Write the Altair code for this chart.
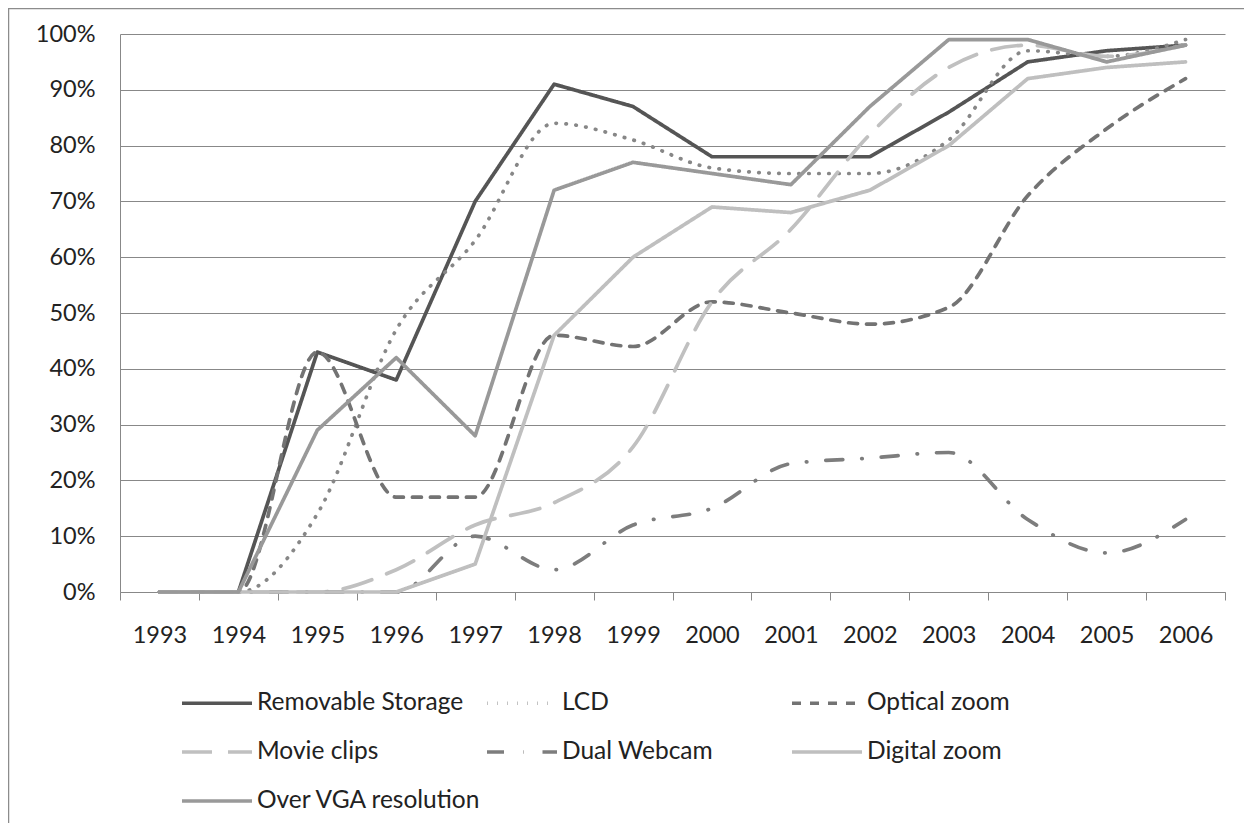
import altair as alt
import pandas as pd

years = [str(y) for y in range(1993, 2007)]
series = ["Removable Storage", "LCD", "Optical zoom", "Movie clips",
          "Dual Webcam", "Digital zoom", "Over VGA resolution"]

removable = [0, 0, 43, 38, 70, 91, 87, 78, 78, 78, 86, 95, 97, 98]
lcd = [0, 0, 14, 47, 63, 84, 81, 76, 75, 75, 81, 97, 96, 99]
optical = [0, 0, 43, 17, 17, 46, 44, 52, 50, 48, 51, 71, 83, 92]
movie = [0, 0, 0, 4, 12, 16, 26, 52, 65, 82, 94, 98, 96, 98]
webcam = [0, 0, 0, 0, 10, 4, 12, 15, 23, 24, 25, 13, 7, 13]
digital = [0, 0, 0, 0, 5, 46, 60, 69, 68, 72, 80, 92, 94, 95]
overvga = [0, 0, 29, 42, 28, 72, 77, 75, 73, 87, 99, 99, 95, 98]

values = [removable, lcd, optical, movie, webcam, digital, overvga]
colors = ["#555555", "#878787", "#737373", "#c0c0c0", "#7d7d7d", "#bfbfbf", "#999999"]
dashes = [[1, 0], [0.5, 9.5], [9, 9], [30, 16], [17, 19, 0.5, 19], [1, 0], [1, 0]]
interp = ["linear", "monotone", "monotone", "monotone", "monotone", "linear", "linear"]

rows = []
for s, vals in zip(series, values):
    for y, v in zip(years, vals):
        rows.append({"series": s, "year": y, "value": v})
df = pd.DataFrame(rows)

FONT = "Lato"
TXT = "#222222"
GRID = "#888888"

base = alt.Chart(df).encode(
    x=alt.X("year:O", bandPosition=0.5,
            scale=alt.Scale(type="band", paddingInner=0, paddingOuter=0),
            axis=alt.Axis(title=None, labelAngle=0, tickBand="extent", tickSize=8,
                          tickColor=GRID, domainColor=GRID, grid=False,
                          labelPadding=23, labelFont=FONT, labelFontSize=23.5,
                          labelColor=TXT)),
    y=alt.Y("value:Q", scale=alt.Scale(domain=[0, 100]),
            axis=alt.Axis(title=None, values=list(range(0, 101, 10)),
                          labelExpr="datum.value + '%'", ticks=False,
                          labelPadding=25, domainColor=GRID, gridColor=GRID,
                          labelFont=FONT, labelFontSize=23.5, labelColor=TXT)),
    color=alt.Color("series:N", scale=alt.Scale(domain=series, range=colors),
                    legend=alt.Legend(title=None)),
    strokeDash=alt.StrokeDash("series:N", scale=alt.Scale(domain=series, range=dashes),
                              legend=alt.Legend(title=None)),
)

layers = []
for s, ip in zip(series, interp):
    layers.append(
        base.transform_filter(alt.datum.series == s).mark_line(
            interpolate=ip, strokeWidth=3.7, strokeCap="round", strokeJoin="round")
    )

frame_df = pd.DataFrame({"a": [0]})
vborder = alt.Chart(frame_df).mark_rule(color="#8c8c8c", strokeWidth=1.5).encode(
    x=alt.value(-111.5), y=alt.value(-30), y2=alt.value(900))
hborder = alt.Chart(frame_df).mark_rule(color="#8c8c8c", strokeWidth=1.5).encode(
    y=alt.value(-25.5), x=alt.value(-120), x2=alt.value(1300))

chart = alt.layer(*layers, vborder, hborder).properties(
    width=1105, height=558,
    autosize=alt.AutoSizeParams(type="none"),
    padding={"left": 112, "top": 26, "right": 19, "bottom": 231},
).configure_view(stroke=None).configure_legend(
    orient="none", legendX=60, legendY=632, columns=3, gridAlign="all",
    direction="horizontal",
    labelFont=FONT, labelFontSize=24.5, labelColor=TXT, labelLimit=0,
    symbolType="stroke", symbolSize=4900, symbolStrokeWidth=3.7,
    labelOffset=3, rowPadding=0, columnPadding=-3,
)

chart.save("out.html", embed_options={"renderer": "svg", "actions": False})
